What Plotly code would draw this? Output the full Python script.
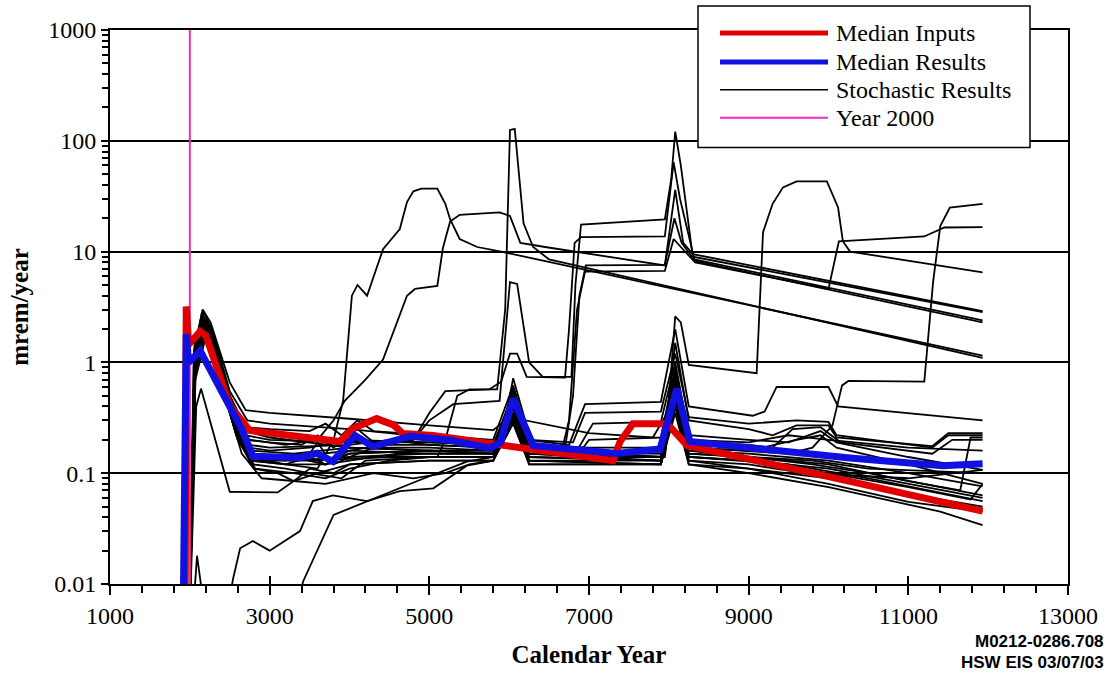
import plotly.graph_objects as go

# ---------------------------------------------------------------------------
# Dose history data (calendar year, mrem/year)
# ---------------------------------------------------------------------------
median_inputs_year = [1940, 1955, 1985, 2130, 2200, 2500, 2750, 3880, 4040, 4340, 4550,
                      4670, 5050, 5760, 6000, 7300, 7390, 7550, 7980, 8230, 10270, 11930]
median_inputs_mrem = [0.004, 3.2, 1.45, 1.9, 1.75, 0.41, 0.243, 0.193, 0.253, 0.311, 0.273,
                      0.228, 0.219, 0.185, 0.178, 0.130, 0.193, 0.28, 0.28, 0.178, 0.0843, 0.0454]

median_results_year = [1915, 1955, 1985, 2130, 2380, 2650, 2790, 3380, 3590, 3790, 4070, 4290,
                       4760, 5260, 5760, 5890, 6050, 6170, 6300, 7350, 7890, 8100, 8265,
                       10270, 11430, 11930]
median_results_mrem = [0.004, 1.8, 1.0, 1.27, 0.58, 0.25, 0.142, 0.138, 0.151, 0.128, 0.219, 0.174,
                       0.215, 0.198, 0.168, 0.19, 0.47, 0.3, 0.178, 0.151, 0.165, 0.58, 0.193,
                       0.137, 0.117, 0.122]

year_2000_x = [2000, 2000]
year_2000_y = [0.01, 1000]

# Individual stochastic realizations: (year, mrem/year)
run_01 = [(1990, .003), (2060, 1.3), (2160, 3.0), (2260, 2.3), (2500, .66), (2700, .37), (3000, .35),
          (4000, .31), (5000, .27), (5800, .245), (5950, .3), (6050, .72), (6200, .3), (7000, .23),
          (7800, .21), (7980, .35), (8080, 1.5), (8250, .3), (9000, .25), (9300, .22), (9600, .27),
          (10000, .27), (10100, .21), (11300, .175), (11500, .23), (11930, .23)]
run_02 = [(1990, .003), (2060, 1.5), (2170, 2.9), (2290, 1.9), (2500, .55), (2720, .3), (3000, .28),
          (4000, .25), (4500, .23), (5000, .21), (5800, .19), (5950, .25), (6050, .6), (6250, .2),
          (6750, .18), (6950, .42), (7900, .44), (8080, 2.0), (8250, .4), (9050, .33), (9200, .36),
          (9350, .6), (10000, .6), (10120, .4), (11930, .3)]
run_03 = [(1990, .003), (2050, 1.0), (2150, 2.4), (2300, 1.4), (2550, .3), (2750, .16), (3300, .15),
          (4000, .17), (5000, .16), (5800, .15), (6050, .45), (6250, .16), (7000, .15), (7950, .15),
          (8080, .7), (8300, .17), (9500, .15), (9800, .17), (10050, .27), (10170, .62), (10250, .68),
          (11200, .67), (11310, 5.3), (11400, 17), (11520, 25), (11930, 27)]
run_04 = [(1990, .003), (2060, 1.1), (2160, 2.1), (2300, 1.2), (2550, .28), (2800, .13), (3500, .13),
          (4500, .14), (5100, .14), (5200, .2), (5350, .5), (5500, .57), (5850, .57), (5950, 3.0),
          (6010, 125), (6070, 128), (6180, 18), (6300, 11), (6500, 8.5), (11930, 1.1)]
run_05 = [(1990, .003), (2060, .9), (2160, 1.9), (2300, 1.1), (2550, .3), (2750, .14), (3200, .12),
          (3600, .11), (3800, .2), (3920, .45), (4030, 4.0), (4100, 5.0), (4220, 4.0), (4420, 10.5),
          (4630, 16), (4720, 28), (4800, 35), (4900, 37), (5100, 37), (5200, 27), (5260, 19.6),
          (5380, 13), (5600, 11), (5900, 10), (11930, 1.15)]
run_06 = [(1990, .003), (2060, 1.2), (2170, 2.5), (2300, 1.5), (2550, .35), (2750, .2), (3200, .18),
          (3600, .2), (3800, .3), (3940, .45), (4200, .7), (4420, 1.06), (4720, 4.0), (4820, 4.6),
          (5100, 4.9), (5170, 10.8), (5260, 18.7), (5380, 21.5), (5880, 22.6), (6010, 21), (6140, 12),
          (6450, 11), (7950, 7.5), (8080, 36), (8180, 12), (8300, 9.5), (11930, 2.9)]
run_07 = [(1990, .003), (2060, 1.4), (2160, 2.7), (2280, 1.8), (2500, .45), (2700, .22), (3000, .2),
          (4000, .19), (4800, .2), (5000, .3), (5300, .42), (5880, .45), (6010, 5.3), (6100, 5.1),
          (6250, 1.0), (6420, .74), (6780, .74), (6830, 5), (6900, 17.5), (7950, 19.5), (8030, 45),
          (8080, 121), (8150, 60), (8300, 9), (11930, 2.85)]
run_08 = [(1990, .003), (2060, 1.1), (2160, 2.3), (2300, 1.3), (2550, .3), (2750, .15), (3300, .14),
          (4000, .16), (4800, .2), (5000, .35), (5200, .55), (5750, .57), (5900, .67), (6010, 1.2),
          (6100, 1.2), (6220, .74), (6700, .73), (6750, 2), (6820, 12), (6900, 13.5), (7950, 13.7),
          (8060, 64), (8140, 30), (8320, 8.5), (11930, 2.4)]
run_09 = [(1990, .003), (2060, 1.0), (2170, 2.0), (2300, 1.2), (2550, .3), (2780, .14), (3300, .13),
          (4000, .14), (5000, .15), (5800, .15), (6050, .4), (6250, .15), (6650, .15), (6750, .3),
          (6850, 3), (6950, 6.6), (7950, 6.7), (8060, 13), (8150, 11), (8330, 8), (10000, 4.6),
          (10130, 12.4), (11200, 13.7), (11450, 16.5), (11930, 16.6)]
run_10 = [(1990, .003), (2050, 1.2), (2150, 2.5), (2270, 1.7), (2500, .5), (2700, .25), (3000, .22),
          (4000, .2), (5000, .19), (5800, .18), (6050, .5), (6250, .18), (6700, .17), (6800, .5),
          (6880, 4), (6960, 7.5), (7950, 7.6), (8070, 20), (8160, 12), (8330, 8.2), (11930, 2.3)]
run_11 = [(1990, .003), (2060, 1.0), (2160, 2.1), (2300, 1.2), (2550, .3), (2760, .15), (3300, .14),
          (3700, .12), (4000, .15), (5000, .16), (5800, .16), (6050, .5), (6250, .16), (7000, .16),
          (7950, .15), (8080, 2.6), (8150, 2.3), (8250, .95), (9100, .8), (9180, 15), (9300, 27),
          (9430, 38), (9600, 43), (9980, 43), (10120, 25), (10180, 12.4), (10270, 10), (11930, 6.5)]
run_12 = [(1990, .003), (2060, 1.2), (2160, 2.6), (2280, 1.8), (2500, .5), (2700, .26), (3000, .25),
          (3500, .24), (3700, .28), (3900, .22), (4100, .3), (4300, .24), (5000, .22), (5800, .2),
          (6050, .62), (6250, .2), (6800, .19), (6950, .35), (7900, .36), (8080, 1.2), (8250, .32),
          (9000, .28), (9600, .3), (10000, .29), (10100, .22), (11300, .17), (11500, .22), (11930, .22)]
run_13 = [(1990, .003), (2060, 1.0), (2160, 2.2), (2300, 1.2), (2550, .32), (2750, .18), (3000, .17),
          (4000, .18), (4500, .2), (5000, .18), (5800, .17), (6050, .55), (6250, .17), (6850, .16),
          (7050, .28), (7900, .29), (8080, 1.0), (8250, .22), (9000, .2), (9500, .19), (9900, .24),
          (10100, .19), (11000, .14), (11930, .107)]
run_14 = [(1990, .003), (2070, .9), (2180, 1.8), (2330, .9), (2600, .22), (2800, .12), (3200, .11),
          (3500, .1), (3900, .09), (4200, .13), (5000, .14), (5800, .14), (6050, .35), (6250, .14),
          (7900, .13), (8080, .5), (8250, .14), (9500, .12), (10500, .09), (11930, .056)]
run_15 = [(1990, .003), (2070, 1.1), (2170, 2.2), (2320, 1.0), (2580, .25), (2780, .14), (3200, .13),
          (3600, .16), (3800, .12), (4000, .14), (4300, .17), (5000, .17), (5800, .16), (6050, .42),
          (6250, .16), (7000, .15), (7950, .14), (8080, .9), (8250, .17), (9000, .16), (9600, .2),
          (9900, .22), (10100, .17), (11000, .12), (11930, .08)]
run_16 = [(1990, .003), (2060, 1.1), (2160, 2.2), (2300, 1.2), (2550, .28), (2750, .13), (3200, .12),
          (3700, .12), (4000, .16), (5000, .15), (5800, .15), (6050, .38), (6250, .15), (7900, .14),
          (8080, .65), (8250, .16), (9000, .14), (10000, .12), (11000, .085), (11650, .07),
          (11780, .21), (11930, .21)]
run_17 = [(1990, .003), (2070, .8), (2180, 1.7), (2350, .8), (2600, .2), (2820, .11), (3300, .1),
          (3700, .09), (4000, .11), (4500, .13), (5000, .14), (5800, .14), (6050, .3), (6250, .13),
          (7900, .13), (8080, .45), (8250, .14), (9000, .13), (10000, .1), (11000, .075),
          (11780, .058), (11930, .08)]
run_18 = [(1990, .003), (2070, .7), (2190, 1.6), (2380, .7), (2650, .15), (2900, .09), (3300, .085),
          (3600, .1), (4000, .12), (5000, .13), (5800, .13), (6050, .3), (6250, .12), (7000, .12),
          (7900, .12), (8080, .4), (8250, .12), (9000, .1), (10000, .075), (11400, .045), (11930, .034)]
run_19 = [(1990, .003), (2070, 1.0), (2170, 2.0), (2300, 1.1), (2560, .27), (2760, .15), (3000, .14),
          (3500, .15), (3600, .19), (3750, .13), (4000, .15), (5000, .16), (5800, .15), (6050, .45),
          (6250, .15), (7000, .14), (7900, .13), (8080, .55), (8250, .15), (9000, .14), (9800, .12),
          (10500, .1), (11930, .063)]
run_20 = [(1990, .003), (2060, 1.3), (2160, 2.5), (2280, 1.6), (2520, .4), (2720, .2), (3000, .19),
          (3400, .18), (3600, .22), (3800, .17), (4100, .25), (4300, .19), (5000, .19), (5800, .18),
          (6050, .5), (6250, .18), (7000, .17), (7900, .17), (8080, .8), (8250, .2), (9000, .19),
          (9500, .22), (10000, .2), (11000, .17), (11930, .16)]
run_21 = [(1990, .003), (2080, .4), (2140, .58), (2250, .3), (2500, .068), (3100, .067), (3350, .09),
          (3500, .11), (3800, .1), (4000, .12), (5000, .13), (5800, .13), (6050, .32), (6250, .13),
          (7900, .12), (8080, .42), (8250, .13), (9000, .12), (9700, .1), (11000, .09), (11930, .107)]
run_22 = [(2000, .002), (2090, .018), (2180, .006), (2480, .006), (2540, .011), (2630, .021),
          (2790, .0244), (3000, .02), (3130, .023), (3380, .03), (3540, .056), (3790, .063),
          (4220, .056), (4630, .069), (5050, .073), (5470, .117), (5800, .13), (6050, .3), (6250, .13),
          (7900, .12), (8080, .4), (8250, .13), (9000, .11), (10000, .08), (11000, .055), (11930, .045)]
run_23 = [(3300, .005), (3420, .0106), (3800, .042), (4220, .056), (4850, .085), (5470, .127),
          (5800, .14), (6050, .33), (6250, .14), (7900, .13), (8080, .5), (8250, .14), (9000, .13),
          (10000, .11), (11000, .08), (11930, .06)]
run_24 = [(1990, .003), (2070, .9), (2180, 1.8), (2330, .95), (2580, .22), (2800, .11), (3100, .1),
          (3300, .085), (3700, .08), (4000, .09), (4300, .1), (4800, .09), (5200, .1), (5500, .12),
          (5800, .13), (6050, .28), (6250, .12), (7900, .12), (8080, .35), (8250, .12), (9000, .11),
          (10000, .09), (11000, .065), (11930, .05)]
run_25 = [(1990, .003), (2060, 1.2), (2170, 2.4), (2300, 1.4), (2540, .33), (2740, .17), (3000, .16),
          (3500, .17), (4000, .2), (4300, .18), (5000, .18), (5800, .17), (6050, .5), (6250, .17),
          (6900, .16), (7000, .2), (7900, .21), (8080, .9), (8250, .19), (9000, .18), (9300, .17),
          (9550, .25), (9900, .26), (10150, .19), (11300, .15), (11550, .2), (11930, .2)]
run_26 = [(1990, .003), (2060, 1.3), (2150, 2.8), (2270, 2.0), (2500, .5), (2700, .24), (3000, .21),
          (3500, .19), (4000, .17), (5000, .16), (5800, .16), (6050, .48), (6250, .16), (7000, .15),
          (7900, .14), (8080, .75), (8250, .16), (9000, .15), (10000, .13), (11000, .1), (11930, .076)]
run_27 = [(1990, .003), (2070, 1.0), (2170, 1.9), (2320, 1.0), (2570, .26), (2780, .13), (3200, .12),
          (3500, .14), (3700, .12), (4000, .13), (4600, .15), (5000, .15), (5800, .15), (6050, .4),
          (6250, .15), (7000, .14), (7900, .14), (8080, .6), (8250, .15), (9000, .14), (9800, .13),
          (10500, .11), (11930, .1)]

stochastic_runs = [run_01, run_02, run_03, run_04, run_05, run_06, run_07, run_08, run_09,
                   run_10, run_11, run_12, run_13, run_14, run_15, run_16, run_17, run_18,
                   run_19, run_20, run_21, run_22, run_23, run_24, run_25, run_26, run_27]

# Axis ticks
x_ticks = [1000, 3000, 5000, 7000, 9000, 11000, 13000]
x_tick_text = ["1000", "3000", "5000", "7000", "9000", "11000", "13000"]
y_ticks = [0.01, 0.1, 1, 10, 100, 1000]
y_tick_text = ["0.01", "0.1", "1", "10", "100", "1000"]

legend_labels = ["Median Inputs", "Median Results", "Stochastic Results", "Year 2000"]
legend_colors = ["#e00000", "#1010e0", "#000000", "#f02cc8"]
legend_widths = [5, 5, 1.5, 2]

SERIF = "Liberation Serif, Times New Roman, serif"

fig = go.Figure()

for run in stochastic_runs:
    yrs = [p[0] for p in run]
    vals = [p[1] for p in run]
    fig.add_trace(go.Scatter(x=yrs, y=vals, mode="lines",
                             line=dict(color="black", width=1.8),
                             hoverinfo="skip", showlegend=False))

fig.add_trace(go.Scatter(x=year_2000_x, y=year_2000_y, mode="lines",
                         line=dict(color="#f0309a", width=2), showlegend=False))
fig.add_trace(go.Scatter(x=median_inputs_year, y=median_inputs_mrem, mode="lines",
                         line=dict(color="#e00000", width=7), showlegend=False))
fig.add_trace(go.Scatter(x=median_results_year, y=median_results_mrem, mode="lines",
                         line=dict(color="#1010e0", width=7), showlegend=False, xaxis="x2"))

# Hand-built legend box
def px_x(px):
    return (px - 110) / 958.0

def px_y(py):
    return (586 - py) / 556.0

shapes = [dict(type="rect", xref="paper", yref="paper",
               x0=px_x(698), x1=px_x(1030), y0=px_y(148), y1=px_y(6),
               fillcolor="white", line=dict(color="black", width=1.5), layer="above")]
annotations = []
row_py = [33, 62, 90, 118]
for label, color, w, py in zip(legend_labels, legend_colors, legend_widths, row_py):
    shapes.append(dict(type="line", xref="paper", yref="paper",
                       x0=px_x(720), x1=px_x(828), y0=px_y(py), y1=px_y(py),
                       line=dict(color=color, width=w), layer="above"))
    annotations.append(dict(xref="paper", yref="paper", x=px_x(834), y=px_y(py),
                            text=label, showarrow=False, xanchor="left", yanchor="middle",
                            font=dict(family=SERIF, size=24, color="black")))

annotations.append(dict(xref="paper", yref="paper", x=px_x(1106), y=px_y(644),
                        text="<b>M0212-0286.708</b>", showarrow=False,
                        xanchor="right", yanchor="middle",
                        font=dict(family="Liberation Sans Narrow, Liberation Sans, Arial", size=17,
                                  color="black")))
annotations.append(dict(xref="paper", yref="paper", x=px_x(1106), y=px_y(665),
                        text="<b>HSW EIS 03/07/03</b>", showarrow=False,
                        xanchor="right", yanchor="middle",
                        font=dict(family="Liberation Sans Narrow, Liberation Sans, Arial", size=17,
                                  color="black")))

fig.update_layout(
    width=1111, height=676,
    margin=dict(l=110, r=43, t=30, b=90),
    paper_bgcolor="white", plot_bgcolor="white",
    showlegend=False,
    font=dict(family=SERIF, color="black", size=24),
    shapes=shapes,
    annotations=annotations,
    xaxis=dict(range=[1000, 13000], tickmode="array", tickvals=x_ticks, ticktext=x_tick_text,
               ticks="outside", ticklen=9, tickwidth=2, tickcolor="black",
               showline=True, linewidth=2, linecolor="black", mirror=True,
               showgrid=False, zeroline=False,
               minor=dict(tick0=1000, dtick=400, ticks="outside",
                          ticklen=7, tickwidth=1.5, tickcolor="black", showgrid=False),
               tickfont=dict(family=SERIF, size=24),
               title=dict(text="<b>Calendar Year</b>", font=dict(family=SERIF, size=25),
                          standoff=18)),
    xaxis2=dict(range=[1000, 13000], overlaying="x", anchor="y", side="bottom",
                tickmode="array", tickvals=x_ticks, ticks="inside", ticklen=8,
                tickwidth=2, tickcolor="black", showticklabels=False,
                showline=False, showgrid=False, zeroline=False),
    yaxis=dict(type="log", range=[-2, 3], tickmode="array", tickvals=y_ticks,
               ticktext=y_tick_text, ticks="outside", ticklen=7, tickwidth=2,
               tickcolor="black", showline=True, linewidth=2, linecolor="black",
               mirror=True, showgrid=True, gridcolor="black", gridwidth=1.5,
               zeroline=False,
               minor=dict(dtick="D1", ticks="outside",
                          ticklen=6, tickwidth=1.5, tickcolor="black", showgrid=False),
               tickfont=dict(family=SERIF, size=24),
               title=dict(text="<b>mrem/year</b>", font=dict(family=SERIF, size=25),
                          standoff=12)),
)

fig.write_html("out.html")
